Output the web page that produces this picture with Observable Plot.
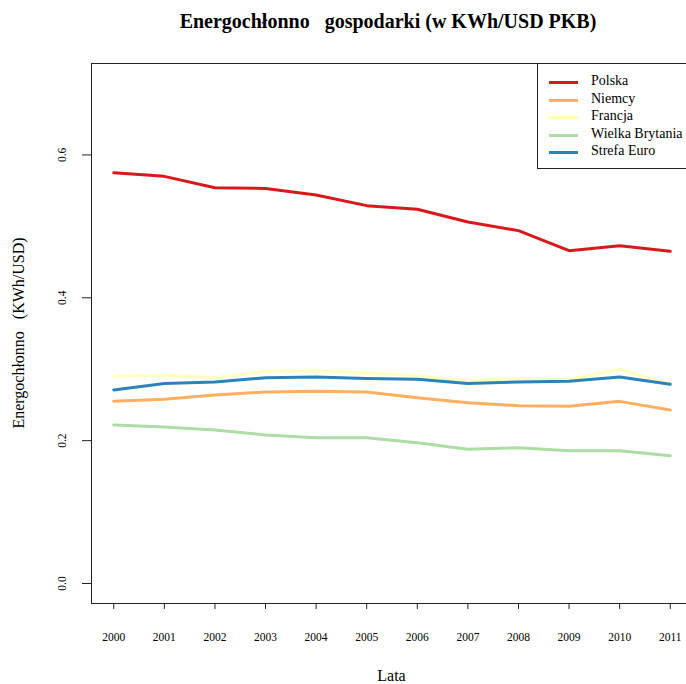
<!DOCTYPE html>
<html>
<head>
<meta charset="utf-8">
<script src="https://cdn.jsdelivr.net/npm/d3@7"></script>
<script src="https://cdn.jsdelivr.net/npm/@observablehq/plot@0.6"></script>
<style>
  html, body { margin: 0; padding: 0; background: #fff; overflow: hidden; }
  #wrap { position: relative; width: 686px; height: 684px; overflow: hidden; font-family: "Liberation Serif", "Times New Roman", serif; color: #000; }
  #chart { position: absolute; left: 0; top: 0; width: 700px; height: 684px; }
  #chart svg { max-width: none !important; }
  .lbl { position: absolute; white-space: pre; line-height: 1; }
  #legend { position: absolute; left: 537px; top: 63px; width: 170px; height: 106px; border: 1px solid #222; box-sizing: border-box; background: #fff; }
  .item { position: absolute; left: 0; height: 16px; white-space: pre; font-size: 14px; }
  .item .sw { position: absolute; left: 11px; top: 7px; width: 29px; height: 3px; }
  .item .tx { position: absolute; left: 53px; top: -1px; }
</style>
</head>
<body>
<div id="wrap">
  <div id="chart"></div>
  <div class="lbl" id="title" style="font-weight:bold;font-size:20px;left:0;width:776px;text-align:center;top:11px;">Energochłonno   gospodarki (w KWh/USD PKB)</div>
  <div class="lbl" id="xlab" style="font-size:16px;left:0;width:783px;text-align:center;top:668px;">Lata</div>
  <div class="lbl" id="ylab" style="font-size:16px;position:absolute;left:19px;top:333px;transform:translate(-50%,-50%) rotate(-90deg);">Energochłonno   (KWh/USD)</div>
  <div id="legend"></div>
</div>
<script>
const years = [2000, 2001, 2002, 2003, 2004, 2005, 2006, 2007, 2008, 2009, 2010, 2011];
const seriesNames = ["Polska", "Niemcy", "Francja", "Wielka Brytania", "Strefa Euro"];
const seriesColors = ["#D7191C", "#FDAE61", "#FFFFBF", "#ABDDA4", "#2B83BA"];
const polska = [0.575, 0.570, 0.554, 0.553, 0.544, 0.529, 0.524, 0.506, 0.494, 0.466, 0.473, 0.465];
const niemcy = [0.255, 0.258, 0.264, 0.268, 0.269, 0.268, 0.260, 0.253, 0.249, 0.248, 0.255, 0.243];
const francja = [0.290, 0.292, 0.288, 0.297, 0.298, 0.295, 0.291, 0.284, 0.287, 0.286, 0.300, 0.279];
const wielkaBrytania = [0.222, 0.219, 0.215, 0.208, 0.204, 0.204, 0.197, 0.188, 0.190, 0.186, 0.186, 0.179];
const strefaEuro = [0.271, 0.280, 0.282, 0.288, 0.289, 0.287, 0.286, 0.280, 0.282, 0.283, 0.289, 0.279];
const yTicks = [0, 0.2, 0.4, 0.6];

const allValues = [polska, niemcy, francja, wielkaBrytania, strefaEuro];
const rows = [];
seriesNames.forEach((name, i) => {
  years.forEach((yr, j) => rows.push({ year: yr, value: allValues[i][j], series: name }));
});

const chart = Plot.plot({
  width: 700,
  height: 684,
  marginLeft: 91,
  marginRight: 8,
  marginTop: 63,
  marginBottom: 81,
  style: { fontFamily: "Liberation Serif, serif", fontSize: "11.5px", background: "transparent", color: "#000", maxWidth: "none" },
  x: { domain: [1999.56, 2011.44], label: null },
  y: { domain: [-0.028, 0.728], label: null },
  color: { domain: seriesNames, range: seriesColors },
  marks: [
    Plot.frame({ stroke: "#222", strokeWidth: 1 }),
    Plot.axisX({ ticks: years, tickFormat: d3.format("d"), tickSize: 6, tickPadding: 23, label: null, stroke: "#222" }),
    Plot.axisY({ ticks: yTicks, tickFormat: () => "", tickSize: 9, label: null, stroke: "#222" }),
    Plot.text(yTicks, { y: d => d, text: d => d.toFixed(1), frameAnchor: "left", dx: -29, rotate: -90, textAnchor: "middle", lineAnchor: "middle", fill: "#000" }),
    Plot.line(rows, { x: "year", y: "value", z: "series", stroke: "series", strokeWidth: 3 })
  ]
});
chart.style.maxWidth = "none";
document.getElementById("chart").appendChild(chart);

const legend = document.getElementById("legend");
seriesNames.forEach((name, i) => {
  const it = document.createElement("div");
  it.className = "item";
  it.style.top = (10 + i * 17.5) + "px";
  const sw = document.createElement("div");
  sw.className = "sw";
  sw.style.background = seriesColors[i];
  const tx = document.createElement("div");
  tx.className = "tx";
  tx.textContent = name;
  it.appendChild(sw);
  it.appendChild(tx);
  legend.appendChild(it);
});
</script>
</body>
</html>
